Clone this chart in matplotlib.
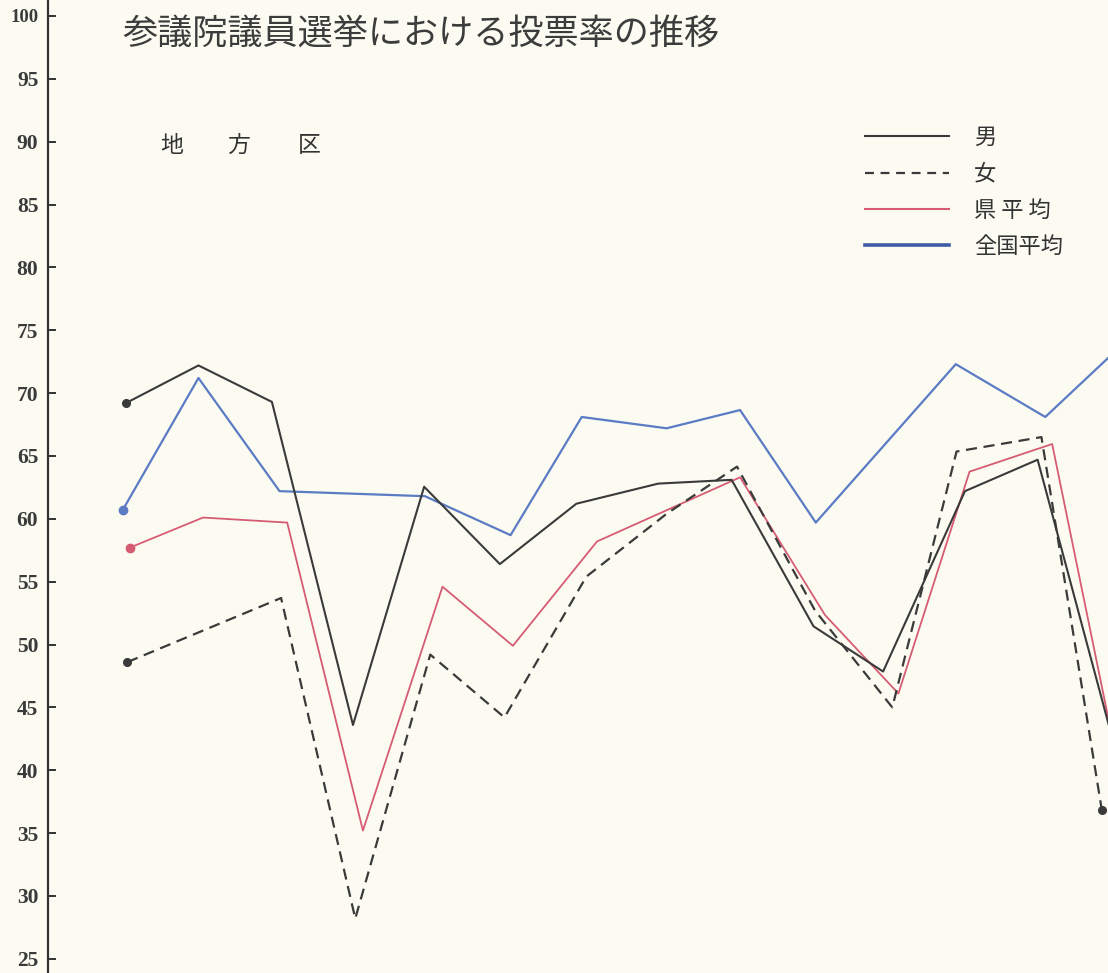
import matplotlib
matplotlib.use("Agg")
import matplotlib.pyplot as plt
from matplotlib.lines import Line2D

plt.rcParams['font.family'] = ['Noto Sans CJK JP', 'DejaVu Sans']

# ---- data (x = election sequence index, read per series from the picture) ----
title = "参議院議員選挙における投票率の推移"
district_label = ["地", "方", "区"]
series_labels = ["男", "女", "県 平 均", "全国平均"]

male_x = [0.05, 1.00, 1.96, 3.02, 3.95, 4.94, 5.94, 7.01, 7.97, 9.04, 9.95, 11.02, 11.97, 13.05]
male_y = [69.2, 72.2, 69.3, 43.6, 62.55, 56.4, 61.2, 62.8, 63.1, 51.45, 47.85, 62.2, 64.7, 40.2]

female_x = [0.07, 2.08, 3.05, 4.03, 5.00, 6.07, 7.12, 8.04, 9.06, 10.07, 10.91, 12.02, 12.81]
female_y = [48.6, 53.7, 28.2, 49.2, 44.2, 55.4, 60.4, 64.15, 52.7, 45.0, 65.35, 66.5, 36.8]

pref_x = [0.10, 1.06, 2.16, 3.15, 4.19, 5.11, 6.21, 8.08, 9.19, 10.15, 11.08, 12.16, 13.05]
pref_y = [57.7, 60.1, 59.7, 35.2, 54.6, 49.9, 58.2, 63.3, 52.35, 46.1, 63.75, 65.95, 39.5]

nat_x = [0.01, 1.00, 2.06, 3.96, 5.08, 6.01, 7.12, 8.08, 9.07, 10.90, 12.07, 13.19]
nat_y = [60.7, 71.2, 62.2, 61.8, 58.7, 68.1, 67.2, 68.65, 59.7, 72.3, 68.1, 74.5]

yticks = [25, 30, 35, 40, 45, 50, 55, 60, 65, 70, 75, 80, 85, 90, 95, 100]
ytick_labels = [str(v) for v in yticks]

# ---- style ----
bg = "#fcfbf2"
c_black = "#3a3a3a"
c_red = "#d65c74"
c_blue = "#5b7bc4"
c_blue_leg = "#3f5ba8"

W, H = 1108, 973
fig = plt.figure(figsize=(W / 100, H / 100), dpi=100, facecolor=bg)
ax = fig.add_axes([48 / W, 0, 1 - 48 / W, 1], facecolor=bg)

ax.plot(nat_x, nat_y, color=c_blue, lw=1.6, zorder=2)
ax.plot(pref_x, pref_y, color=c_red, lw=1.3, zorder=3)
ax.plot(male_x, male_y, color=c_black, lw=1.5, zorder=4)
ax.plot(female_x, female_y, color=c_black, lw=1.6, dashes=(5, 3), zorder=4)

# start / end dots
ax.plot(nat_x[:1], nat_y[:1], 'o', color=c_blue, ms=6, zorder=5)
ax.plot(pref_x[:1], pref_y[:1], 'o', color=c_red, ms=6, zorder=5)
ax.plot(male_x[:1], male_y[:1], 'o', color=c_black, ms=5.5, zorder=5)
ax.plot([female_x[0], female_x[-1]], [female_y[0], female_y[-1]], 'o',
        color=c_black, ms=5.5, zorder=5)

ax.set_xlim(-0.967, 12.89)
ax.set_ylim(23.87, 101.27)

for s in ['top', 'right', 'bottom']:
    ax.spines[s].set_visible(False)
ax.spines['left'].set_color("#333333")
ax.spines['left'].set_linewidth(1.6)
ax.set_xticks([])
ax.set_yticks(yticks)
labs = ax.set_yticklabels(ytick_labels, family='Liberation Serif',
                          fontweight='bold', fontsize=15.5, color="#3a3a3a")
for t in labs:
    if t.get_text() == "100":
        t.set_fontsize(13.5)
ax.tick_params(axis='y', direction='in', length=6, width=1.4,
               color="#333333", pad=7)

# title and sub-label
fig.text(122 / W, 1 - 35 / H, title, fontsize=25.3, color="#3c3c3c",
         ha='left', va='center')
for ch, px in zip(district_label, [171.5, 238.5, 309]):
    fig.text(px / W, 1 - 145 / H, ch, fontsize=16.5, color="#333333",
             ha='center', va='center')

# legend
handles = [Line2D([], [], color=c_black, lw=1.5),
           Line2D([], [], color=c_black, lw=1.6, dashes=(4, 3)),
           Line2D([], [], color=c_red, lw=1.5),
           Line2D([], [], color=c_blue_leg, lw=2.6)]
leg = ax.legend(handles, series_labels, loc='upper left',
                bbox_to_anchor=(865 / W, 1 - 126 / H), bbox_transform=fig.transFigure,
                frameon=False, fontsize=16, handlelength=3.8, handletextpad=1.1,
                labelspacing=0.6, borderaxespad=0, borderpad=0)
for t in leg.get_texts():
    t.set_color("#333333")

fig.savefig("out.png", dpi=100, facecolor=bg)
